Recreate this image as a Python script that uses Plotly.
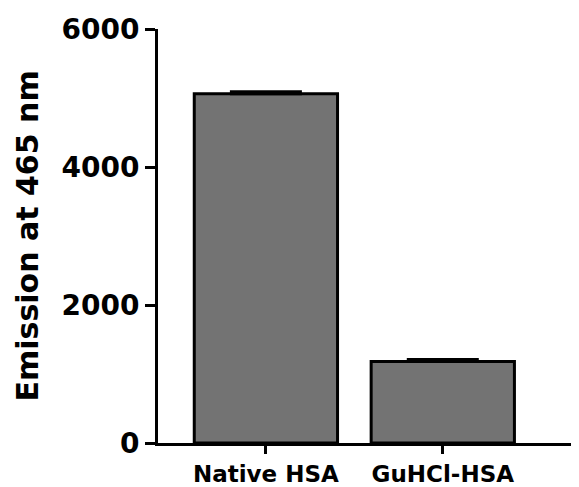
import plotly.graph_objects as go

categories = ["Native HSA", "GuHCl-HSA"]
values = [5060, 1180]
errors = [30, 30]
y_ticks = [0, 2000, 4000, 6000]

fig = go.Figure()
fig.add_trace(go.Bar(
    x=categories, y=values, width=0.81,
    marker=dict(color="#737373", line=dict(color="black", width=3)),
    error_y=dict(type="data", symmetric=False, array=errors,
                 arrayminus=[0] * len(errors), color="black", thickness=3, width=36),
))

font_family = "DejaVu Sans"
fig.update_layout(
    width=571, height=479,
    margin=dict(l=150, r=0, t=21, b=44),
    plot_bgcolor="white", paper_bgcolor="white",
    showlegend=False,
    font=dict(family=font_family, color="black"),
    xaxis=dict(range=[-0.61, 1.77], showline=True, linecolor="black", linewidth=3,
               ticks="outside", ticklen=8, tickwidth=3, tickcolor="black",
               tickfont=dict(family=font_family, size=23, weight="bold"),
               showgrid=False, zeroline=False),
    yaxis=dict(range=[0, 6000], tickvals=y_ticks, showline=True, linecolor="black",
               linewidth=3, ticks="outside", ticklen=10, tickwidth=3, tickcolor="black",
               tickfont=dict(family=font_family, size=28, weight="bold"),
               showgrid=False, zeroline=False),
    annotations=[dict(text="Emission at 465 nm", xref="paper", yref="paper",
                      x=-150 / 421, y=0.5, xanchor="left", yanchor="middle",
                      textangle=-90, showarrow=False, borderpad=0,
                      font=dict(family=font_family, size=30, weight="bold"))],
)
fig.write_html("out.html")
